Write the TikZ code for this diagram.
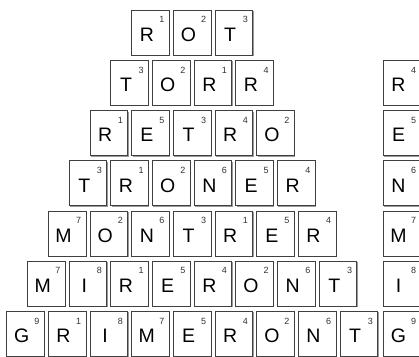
\documentclass[tikz,border=0pt]{standalone}
\usepackage{fontspec}
\setmainfont{Liberation Sans}
\usetikzlibrary{shadows}
\tikzset{
  tile/.style={draw=black!75, line width=0.6pt, fill=white, minimum width=37.7pt, minimum height=45pt,
    inner sep=0pt, text height=18pt, text depth=0pt, font=\fontsize{19.5}{20}\selectfont,
    execute at end node={\hspace*{7pt}},
    drop shadow={shadow xshift=1.1pt, shadow yshift=-1.1pt, fill=black!40, opacity=1}},
  num/.style={font=\fontsize{9}{9}\selectfont, text=black!80, inner sep=0pt, anchor=center,
    text height=6.4pt, text depth=0pt, execute at end node={}, draw=none, fill=none,
    xshift=-7.5pt, yshift=-10pt, label distance=0pt}
}
% row number, tile count, letter/number list
\newcommand{\tilerow}[3]{%
  \foreach \ch/\nm [count=\i] in {#3}
    \node[tile, label={[num]north east:\nm}] (t#1-\i)
      at ({192+(\i-(#2+1)/2)*41.67}, {-32.5-(#1-1)*50.2}) {\ch};
}

\begin{document}
\begin{tikzpicture}[x=1pt, y=1pt]
  \useasboundingbox (0,0) rectangle (419,-356);
  \tilerow{1}{3}{R/1, O/2, T/3}
  \tilerow{2}{4}{T/3, O/2, R/1, R/4}
  \tilerow{3}{5}{R/1, E/5, T/3, R/4, O/2}
  \tilerow{4}{6}{T/3, R/1, O/2, N/6, E/5, R/4}
  \tilerow{5}{7}{M/7, O/2, N/6, T/3, R/1, E/5, R/4}
  \tilerow{6}{8}{M/7, I/8, R/1, E/5, R/4, O/2, N/6, T/3}
  \tilerow{7}{9}{G/9, R/1, I/8, M/7, E/5, R/4, O/2, N/6, T/3}
  % column on the right
  \foreach \ch/\nm [count=\k from 2] in {R/4, E/5, N/6, M/7, I/8, G/9}
    \node[tile, label={[num]north east:\nm}] (c\k) at (402, {-32.5-(\k-1)*50.2}) {\ch};
\end{tikzpicture}
\end{document}
